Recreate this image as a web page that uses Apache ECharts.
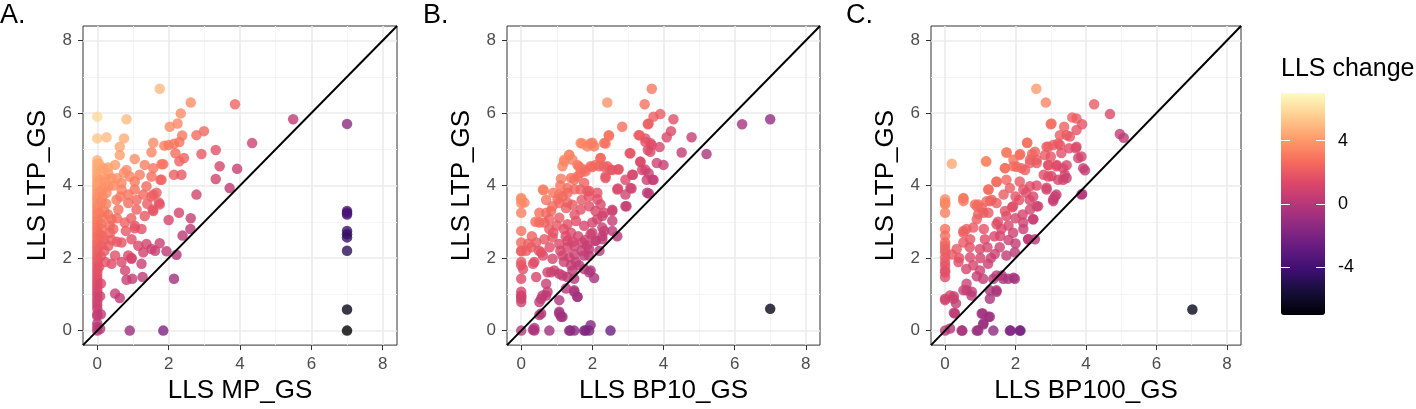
<!DOCTYPE html>
<html>
<head>
<meta charset="utf-8">
<script src="https://cdn.jsdelivr.net/npm/echarts@6/dist/echarts.min.js"></script>
<style>
html,body{margin:0;padding:0;background:#fff;}
#chart{width:1416px;height:409px;}
</style>
</head>
<body>
<div id="chart"></div>
<script>
// ---------- data ----------
const axisMin = -0.4, axisMax = 8.4;
const majorTicks = [0, 2, 4, 6, 8];
const minorTicks = [1, 3, 5, 7];
const colorbarTicks = [-4, 0, 4];
const colorMin = -7, colorMax = 7;
const panelTags = ['A.', 'B.', 'C.'];
const xNames = ['LLS MP_GS', 'LLS BP10_GS', 'LLS BP100_GS'];
const yName = 'LLS LTP_GS';
const legendTitle = 'LLS change';

const panelA = [
  [0,0],[0,0.1],[0,0.2],[0,0.4],[0,0.45],[0,0.6],[0,0.7],[0,0.8],[0,0.9],[0,1.0],[0,1.1],[0,1.2],[0,1.3],[0,1.4],[0,1.5],[0,1.6],[0,1.7],[0,1.8],[0,1.9],[0,2.0],[0,2.1],[0,2.2],[0,2.3],[0,2.4],[0,2.5],[0,2.6],[0,2.7],[0,2.8],[0,2.9],[0,3.0],[0,3.1],[0,3.2],[0,3.3],[0,3.4],[0,3.5],[0,3.6],[0,3.7],[0,3.8],[0,3.9],[0,4.0],[0,4.1],[0,4.2],[0,4.3],[0,4.4],[0,4.5],[0,4.6],[0,4.7],[0,5.3],[0,5.9],
  [0.08,0.05],[0.1,0.45],[0.08,0.95],[0.1,1.3],[0.05,1.75],[0.1,2.05],[0.12,2.35],[0.08,2.65],[0.1,2.95],[0.06,3.25],[0.12,3.55],[0.1,3.85],[0.08,4.15],[0.1,4.45],[0.05,4.6],[0.12,2.8],[0.15,3.1],[0.18,2.5],[0.2,2.2],[0.15,3.7],[0.2,3.95],[0.25,4.2],
  [1.75,6.67],[2.62,6.29],[3.86,6.24],[5.49,5.83],[0.82,5.83],[0.26,5.33],[0.75,5.30],[0.63,5.07],[0.63,4.84],[2.34,5.99],[2.25,5.71],[2.03,5.62],[2.38,5.38],[2.78,5.39],[2.99,5.50],[1.57,5.18],[1.88,5.10],[2.0,5.12],[2.15,5.15],[2.3,5.2],[1.52,4.92],[2.19,4.89],[2.43,4.76],[2.3,4.67],[2.92,4.87],[3.32,4.98],[4.34,5.17],[3.43,4.53],[3.92,4.46],[3.32,4.18],[3.71,3.93],[2.78,3.75],[2.15,4.30],[2.36,4.30],[1.85,4.59],[1.77,4.16],[1.73,3.53],[1.57,3.75],[1.55,3.34],[2.29,3.25],[2.0,3.05],[2.62,3.10],[2.61,2.80],[2.39,2.62],[1.75,2.41],[1.62,2.20],[1.94,2.19],[2.22,2.09],[2.15,1.43],[1.85,0],[0.91,0],[0.5,1.02],[0.63,0.9],[0.78,1.66],[0.82,1.40],[0.98,1.43],[1.27,1.48],[1.24,1.84],[0.96,2.0],[1.05,2.82],[0.4,1.84],
  [0.26,3.80],[0.54,3.61],[0.68,3.89],[0.87,3.75],[1.05,3.89],[1.29,3.75],[1.52,3.70],[1.66,3.80],[1.75,3.48],[1.57,3.30],[1.33,3.16],[1.10,3.34],[0.87,3.52],[0.59,3.34],[0.40,3.07],[0.77,2.98],[1.05,2.89],[1.24,2.80],[0.96,2.52],[0.68,2.43],[1.15,2.34],[1.38,2.39],[1.52,2.25],[1.29,2.16],[0.87,2.07],[0.50,2.07],[0.31,2.34],[0.36,2.70],[0.22,1.89],[0.96,1.98],[0.68,1.89],
  [1.05,4.73],[1.33,4.57],[1.57,4.48],[1.80,4.59],[0.82,4.43],[0.50,4.57],[0.31,4.34],[0.91,4.25],[1.19,4.30],[1.52,4.25],[1.80,4.16],[0.68,4.07],[1.05,4.11],[0.31,3.98],[1.38,3.98],[0.17,4.48],
  [0.15,2.6],[0.2,3.3],[0.25,3.5],[0.3,3.2],[0.35,2.9],[0.45,2.8],[0.55,3.1],[0.65,3.7],[0.45,4.0],[0.55,4.2],[0.75,4.35],[0.2,4.1],[0.3,4.5],[0.4,4.2],[0.4,2.5],[0.55,2.45],[0.8,2.75],[0.95,3.1],[1.1,3.6],[1.4,3.5],
  [7,5.7],[7,3.3],[7,3.25],[7,3.2],[7,2.75],[7,2.66],[7,2.57],[7,2.2],[7,0.58],[7,0]
];

const panelB = [
  [3.67,6.67],[2.42,6.29],[3.47,6.24],[2.84,5.62],[7.0,5.83],[6.21,5.69],[3.72,5.9],[3.91,5.97],[4.28,5.83],[3.56,5.69],[3.33,5.39],[3.49,5.30],[4.21,5.50],[4.09,5.33],[4.79,5.33],[3.63,5.17],[3.89,5.06],[3.56,4.98],[4.51,4.91],[5.21,4.87],[3.05,4.89],[3.35,4.65],[3.81,4.62],[4.0,4.57],[3.49,4.44],[3.14,4.30],[3.53,4.16],[3.69,4.16],[2.93,4.16],[3.1,3.92],[2.72,3.92],[2.93,3.75],[3.59,3.78],[2.96,3.43],[2.56,3.33],[2.7,2.6],[2.47,5.37],[2.33,5.17],[1.67,5.17],[1.86,5.08],[2.0,5.18],[2.05,5.08],[1.35,4.85],[1.21,4.71],[1.16,4.53],[0.63,3.87],[1.58,4.57],[1.77,4.44],[1.67,4.35],[2.23,4.76],[2.19,4.53],[2.42,4.53],[2.51,4.44],[2.72,4.44],[2.37,4.21],[1.95,4.53],[2.09,4.57],[1.12,4.19],[1.49,4.16],[1.77,4.07],[1.91,3.85],[2.14,3.62],[2.23,3.48],
  [0,3.62],[0.09,3.53],[0,3.25],[0,2.75],[0,2.43],[0,2.19],[0,1.8],[0.05,1.7],[0,1.43],[0,1.07],[0,0.93],[0,0.79],[0,3.52],[0,2.2],[0,1.89],[0,0.97],[0,0.88],
  [0,0],[0.33,0.02],[0.37,0],[0.79,0],[1.38,0],[1.49,0],[1.77,0],[1.91,0],[1.95,0.15],[2.51,0],[0.37,0.07],[1.35,0],[1.81,0],
  [0.51,0.79],[0.6,0.97],[0.74,1.07],[0.56,0.47],[1.07,0.52],[1.16,0.38],[1.07,0.84],[1.49,1.07],[1.58,0.93],[0.42,1.48],[0.7,1.29],[0.84,1.61],[0.93,1.66],[1.16,1.52],[1.3,1.48],[1.49,1.43],[1.91,1.61],[2.05,1.45],[1.77,1.7],[1.63,1.8],[1.91,2.07],[0.37,1.89],[0.14,2.2],[0.28,2.3],[0.56,2.16],
  [0.51,3.25],[0.7,3.25],[0.84,3.3],[1.02,3.62],[1.16,3.71],[1.3,3.53],[0.65,2.98],[0.79,2.8],[2.33,2.75],[2.28,2.52],[2.09,2.48],[1.95,2.66],[2.56,3.03],[2.14,3.07],[2.33,3.25],
  [0.88,3.43],[1.07,3.52],[1.26,3.38],[1.44,3.47],[1.67,3.34],[1.91,3.43],[2.09,3.3],[2.28,3.16],[2.56,3.3],[2.93,3.43],
  [0.51,2.98],[0.79,3.07],[1.07,3.11],[1.3,2.93],[1.54,3.02],[1.77,2.89],[2.0,2.98],[2.28,2.84],[2.56,2.75],
  [0.42,2.43],[0.65,2.52],[0.88,2.57],[1.07,2.39],[1.3,2.48],[1.49,2.34],[1.72,2.43],[1.91,2.25],[2.09,2.48],[2.28,2.61],
  [0.33,1.84],[0.61,2.07],[0.88,1.98],[1.16,2.07],[1.35,2.02],[1.54,1.89],[1.77,2.07],
  [0.74,1.61],[1.07,1.57],[1.44,1.66],[1.95,1.66],[0.56,0.88],[0.70,0.97],[0.51,0.43],[1.07,0.47],[1.12,0.38],[1.49,1.11],[1.58,0.93],[1.26,1.16],
  [1.35,4.84],[1.21,4.66],[1.44,4.71],[1.63,4.52],[1.81,4.39],[2.0,4.51],[2.23,4.75],[2.33,4.52],[2.56,4.43],[2.74,4.45],[2.37,4.25],[1.58,4.25],[1.40,4.21],[0.61,3.89],[0,3.66],[1.07,3.75],[1.30,3.93],[1.67,3.89],[1.86,3.84],[2.14,3.80],[2.70,3.89],[3.12,4.30],[3.07,3.93],[3.35,4.66],[3.07,4.89],[3.58,5.71],[3.30,5.39],[3.49,5.21],[3.67,5.12],[3.63,4.93],[3.40,4.43],[3.58,4.34],[3.72,4.16],[3.54,3.80],
  [2.46,5.39],[2.37,5.16],[1.95,5.16],[1.72,5.16],
  [1.2,2.8],[1.4,2.7],[1.6,2.6],[1.8,2.5],[1.1,2.2],[1.3,2.3],[1.5,2.1],[1.7,2.2],[1.2,1.9],[1.4,1.8],[1.0,2.9],[0.9,2.7],[1.5,3.2],[1.7,3.6],[1.9,3.7],[1.3,3.8],[1.5,3.9],[1.1,4.0],[0.9,3.8],[0.7,3.6],[0.4,3.0],[0.3,2.6],[0.2,2.4],[0.5,2.2],[0.8,2.3],[2.0,2.7],[2.2,2.2],[1.85,2.35],[1.25,2.6],[1.45,2.45],
  [7.0,0.6]
];

const panelC = [
  [2.59,6.67],[2.86,6.29],[4.23,6.24],[4.68,5.97],[7.02,0.58],[3.0,5.69],[3.38,5.62],[3.61,5.88],[3.73,5.85],[3.89,5.69],[3.26,5.39],[3.54,5.35],[3.73,5.53],[4.96,5.42],[5.07,5.32],[2.33,5.18],[1.75,4.91],[2.13,4.87],[2.47,4.87],[2.6,4.71],[2.93,5.07],[3.07,5.12],[3.26,5.12],[3.73,5.07],[3.78,4.76],[3.92,4.48],[3.97,4.42],[0.19,4.60],[1.16,4.67],[1.23,3.89],[1.46,4.10],[1.7,4.48],[1.94,4.53],[2.17,4.48],[2.41,4.62],[2.93,4.56],[3.16,4.53],[3.45,4.56],[3.02,4.26],[3.35,4.16],[3.4,4.3],[2.88,3.94],[3.16,3.75],[3.07,3.62],[3.89,3.77],[2.5,3.07],[2.64,3.43],[2.22,2.8],[2.36,2.52],[2.55,2.52],
  [0,3.62],[0,3.53],[0,3.25],[0.52,3.64],[0,2.8],[0,2.62],[0,2.34],[0,2.16],[0,1.89],[0,1.66],[0,1.48],[0,3.48],[0,3.52],[0,2.43],[0,2.25],[0,2.02],[0,1.79],[0,1.61],
  [0,0.84],[0.14,0.97],[0.25,0.95],[0.31,0.75],[0.25,0.49],[0,0],[0.14,0.06],[0.49,0],[0.9,0],[1.37,0],[1.86,0],[2.14,0],[1.04,0.47],[1.23,0.38],[1.09,0.2],
  [0.61,1.29],[0.61,1.11],[0.76,1.07],[1.27,0.88],[1.46,1.07],[1.37,1.43],[1.65,1.43],[1.94,1.46],[1.61,1.52],[0.61,2.8],[0.52,2.7],[0.71,2.52],[0.9,3.43],[1.04,3.39],[1.28,3.57],[0.94,3.21],[1.09,3.25],
  [1.17,4.66],[1.74,4.91],[2.33,5.18],[3.02,5.71],[3.45,5.39],[3.21,5.16],[2.88,5.07],[3.52,5.03],[3.71,5.03],[3.87,4.80],[2.55,4.93],[2.12,4.84],[2.41,4.71],[1.94,4.71],[1.70,4.48],[2.03,4.52],[2.27,4.43],[2.60,4.62],[2.83,4.84],[2.93,4.57],[3.17,4.57],[3.35,4.48],[2.93,4.25],[3.21,4.16],[3.45,4.21],[2.88,3.89],[3.12,3.70],[3.87,3.75],[1.46,4.11],[1.23,3.89],[1.74,4.16],[1.84,3.93],[2.12,4.11],[2.22,3.89],[2.41,3.98],[2.50,3.70],[2.0,3.70],[1.66,3.75],[1.32,3.61],[0.94,3.48],[0.52,3.66],
  [0.52,2.75],[0.80,2.84],[0.52,2.43],[0.33,2.25],[0.38,1.89],[0.71,2.02],[0.99,2.25],[1.13,2.52],[0.90,3.07],[1.23,3.25],[1.46,2.93],[1.56,2.61],[1.74,3.16],[1.93,2.70],[2.22,2.98],[2.41,3.34],[2.50,3.07],[2.36,2.52],[1.98,2.16],[1.74,2.07],[1.41,2.11],[1.22,1.84],[0.99,1.66],[1.08,1.43],[1.46,1.52],[1.79,1.43],[1.98,1.43],
  [0,0.88],[0.24,0.88],[0.52,1.11],[0.75,0.97],[0.28,0.47],[1.27,1.11],[1.46,1.11],[1.07,0.47],[1.27,0.38],[1.08,0.17],[0.47,0],[0.94,0],[1.84,0],[2.12,0],
  [0.52,3.57],[0.85,3.48],[1.18,3.57],[1.46,3.52],[1.93,3.43],[2.6,3.43],[3.07,3.57],
  [1.5,3.0],[1.7,3.3],[1.9,3.4],[1.6,2.8],[1.8,2.9],[2.0,3.1],[2.1,3.6],[2.3,3.8],[1.4,2.6],[1.2,2.3],[1.0,2.0],[0.8,1.8],[0.6,1.7],[0.4,2.0],[0.2,2.1],[1.3,2.0],[1.55,2.3],[1.8,2.5],[2.0,2.4],[1.1,2.8],[0.7,2.3],[0.9,1.5],[2.2,3.2],[2.4,3.6],[2.6,4.0],[2.8,4.3],[3.0,4.8],[3.3,4.9]
];

// ---------- chart ----------
const FONT = '"Liberation Sans", Arial, sans-serif';
const panels = [panelA, panelB, panelC];
const grids = [
  {left: 83, top: 26, width: 314, height: 321},
  {left: 507, top: 26, width: 313, height: 321},
  {left: 931, top: 26, width: 310, height: 321}
];
const colorbarBox = {left: 1281, top: 93, width: 44, height: 222};

const chart = echarts.init(document.getElementById('chart'), null, {renderer: 'canvas'});

const gridOpts = grids.map(g => Object.assign({show: true, borderColor: '#333333', borderWidth: 1, backgroundColor: 'transparent', containLabel: false}, g));
gridOpts.push(Object.assign({show: false}, colorbarBox));

const xAxes = [], yAxes = [], series = [];
const scatterIdx = [];

panels.forEach((data, i) => {
  xAxes.push({
    type: 'value', gridIndex: i, min: axisMin, max: axisMax,
    name: xNames[i], nameLocation: 'middle', nameGap: 30,
    nameTextStyle: {fontFamily: FONT, fontSize: 26, color: '#000'},
    axisLine: {show: false, onZero: false},
    axisTick: {show: true, customValues: majorTicks, length: 5, lineStyle: {color: '#333', width: 1}},
    axisLabel: {customValues: majorTicks, fontFamily: FONT, fontSize: 17, color: '#4d4d4d', margin: 11},
    splitLine: {show: false}
  });
  yAxes.push({
    type: 'value', gridIndex: i, min: axisMin, max: axisMax,
    name: yName, nameLocation: 'middle', nameGap: 32,
    nameTextStyle: {fontFamily: FONT, fontSize: 26, color: '#000'},
    axisLine: {show: false, onZero: false},
    axisTick: {show: true, customValues: majorTicks, length: 5, lineStyle: {color: '#333', width: 1}},
    axisLabel: {customValues: majorTicks, fontFamily: FONT, fontSize: 17, color: '#4d4d4d', margin: 11},
    splitLine: {show: false}
  });
  // grid lines drawn through the axes
  series.push({
    type: 'line', xAxisIndex: i, yAxisIndex: i, data: [], silent: true, z: 1,
    markLine: {
      silent: true, symbol: 'none', label: {show: false}, animation: false, z: 1,
      data: [].concat(
        minorTicks.map(v => ({xAxis: v, lineStyle: {color: '#f4f4f4', width: 1, type: 'solid'}})),
        minorTicks.map(v => ({yAxis: v, lineStyle: {color: '#f4f4f4', width: 1, type: 'solid'}})),
        majorTicks.map(v => ({xAxis: v, lineStyle: {color: '#ebebeb', width: 1.6, type: 'solid'}})),
        majorTicks.map(v => ({yAxis: v, lineStyle: {color: '#ebebeb', width: 1.6, type: 'solid'}}))
      )
    }
  });
  scatterIdx.push(series.length);
  series.push({
    type: 'scatter', xAxisIndex: i, yAxisIndex: i, z: 3,
    symbol: 'circle', symbolSize: 10.5,
    itemStyle: {opacity: 0.8},
    data: data.map(p => [p[0], p[1], p[1] - p[0]]),
    animation: false
  });
  // identity line y = x across the panel
  series.push({
    type: 'line', xAxisIndex: i, yAxisIndex: i, z: 6, silent: true,
    symbol: 'none', clip: true,
    lineStyle: {color: '#000', width: 2},
    data: [[axisMin, axisMin], [axisMax, axisMax]],
    animation: false
  });
});

// colour bar axis (for tick labels / white tick marks)
xAxes.push({type: 'value', gridIndex: 3, show: false, min: 0, max: 1});
yAxes.push({
  type: 'value', gridIndex: 3, min: colorMin, max: colorMax, position: 'right', z: 10,
  axisLine: {show: false, onZero: false},
  axisTick: {show: true, inside: true, customValues: colorbarTicks, length: 9, lineStyle: {color: '#fff', width: 1}},
  axisLabel: {customValues: colorbarTicks, fontFamily: FONT, fontSize: 18, color: '#000', margin: 13},
  splitLine: {show: false}
});
yAxes.push({
  type: 'value', gridIndex: 3, min: colorMin, max: colorMax, position: 'left', z: 10,
  axisLine: {show: false, onZero: false},
  axisTick: {show: true, inside: true, customValues: colorbarTicks, length: 9, lineStyle: {color: '#fff', width: 1}},
  axisLabel: {show: false},
  splitLine: {show: false}
});

const magma = ['#000004', '#140e36', '#3b0f70', '#641a80', '#8c2981', '#b73779', '#de4968', '#f7705c', '#fe9f6d', '#fecf92', '#fcfdbf'];

const option = {
  backgroundColor: '#ffffff',
  animation: false,
  textStyle: {fontFamily: FONT},
  grid: gridOpts,
  xAxis: xAxes,
  yAxis: yAxes,
  visualMap: {
    type: 'continuous', min: colorMin, max: colorMax, dimension: 2,
    seriesIndex: scatterIdx, calculable: false, hoverLink: false,
    orient: 'vertical', left: colorbarBox.left, top: colorbarBox.top,
    itemWidth: colorbarBox.width, itemHeight: colorbarBox.height,
    padding: 0, text: null, showLabel: false,
    inRange: {color: magma}, z: 5
  },
  graphic: [
    {type: 'text', left: 0, top: 2, style: {text: panelTags[0], font: '27px ' + FONT, fill: '#000'}},
    {type: 'text', left: 423, top: 2, style: {text: panelTags[1], font: '27px ' + FONT, fill: '#000'}},
    {type: 'text', left: 846, top: 2, style: {text: panelTags[2], font: '27px ' + FONT, fill: '#000'}},
    {type: 'text', left: 1281, top: 57, style: {text: legendTitle, font: '25px ' + FONT, fill: '#000'}}
  ],
  series: series
};
chart.setOption(option);
</script>
</body>
</html>
